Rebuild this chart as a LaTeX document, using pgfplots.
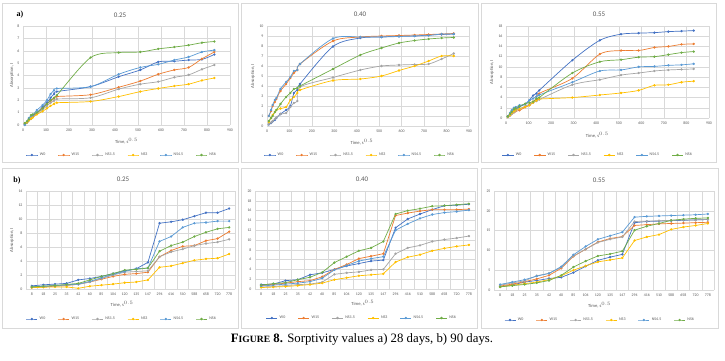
\documentclass[border=0pt]{standalone}
\usepackage{fontspec}
\setmainfont{Carlito}
\newfontfamily\capfont{Liberation Serif}
\usepackage{pgfplots}
\usepackage{pgfplotstable}
\pgfplotsset{compat=1.18}
\definecolor{cW0}{HTML}{4472C4}
\definecolor{cW15}{HTML}{ED7D31}
\definecolor{cNSa}{HTML}{A5A5A5}
\definecolor{cNSb}{HTML}{FFC000}
\definecolor{cNSc}{HTML}{5B9BD5}
\definecolor{cNSd}{HTML}{70AD47}
\definecolor{gridc}{HTML}{D9D9D9}
\definecolor{labc}{HTML}{595959}
\definecolor{framec}{HTML}{D9D9D9}

\pgfplotstableread{
t W0 W15 NSa NSb NSc NSd
8 0.05 0.1 0.1 0.1 0.0 0.15
18 0.2 0.25 0.25 0.2 0.3 0.3
25 0.35 0.4 0.4 0.35 0.55 0.45
35 0.5 0.55 0.55 0.5 0.75 0.8
42 0.7 0.65 0.65 0.6 0.8 0.85
60 1.0 0.95 0.9 0.85 1.2 1.0
85 1.45 1.35 1.25 1.1 1.6 1.35
104 1.8 1.7 1.55 1.35 2.0 1.7
120 2.2 1.95 1.8 1.55 2.5 2.0
135 2.5 2.15 1.95 1.7 2.8 2.2
147 2.7 2.3 2.1 1.8 2.95 2.4
294 3.1 2.45 2.2 1.9 3.1 5.45
416 3.9 3.05 2.9 2.3 4.1 5.85
510 4.45 3.55 3.3 2.7 4.65 5.9
588 5.1 4.1 3.5 2.95 4.9 6.15
658 5.15 4.45 3.85 3.15 5.25 6.3
720 5.25 4.65 4.05 3.3 5.5 6.45
778 5.3 5.35 4.5 3.6 5.9 6.65
832 5.7 5.9 4.85 3.8 6.05 6.75
}\TA

\pgfplotstableread{
t W0 W15 NSa NSb NSc NSd
8 0.15 1.0 0.2 0.4 1.0 0.5
18 0.3 1.5 0.35 0.8 1.6 0.8
25 0.45 2.0 0.5 1.1 2.1 1.0
35 0.6 2.4 0.7 1.4 2.6 1.4
42 0.8 2.7 0.85 1.6 2.8 1.6
60 1.2 3.5 1.2 1.75 3.7 2.2
85 1.6 4.2 1.3 1.9 4.4 2.9
104 2.0 4.8 1.9 2.6 4.9 3.3
120 3.3 5.3 2.3 2.9 5.5 3.7
135 3.6 5.6 2.5 3.3 5.6 3.8
147 4.2 6.2 3.9 3.6 6.2 4.0
294 7.95 8.5 4.85 4.55 8.75 5.7
416 8.8 8.9 5.6 4.7 8.9 7.1
510 8.9 9.0 6.0 5.0 8.9 7.8
588 9.0 9.05 6.1 5.55 8.95 8.3
658 9.0 9.1 6.15 6.0 9.0 8.55
720 9.1 9.15 6.2 6.5 9.05 8.7
778 9.15 9.2 6.7 7.0 9.2 8.8
832 9.2 9.25 7.25 7.0 9.2 8.85
}\TB

\pgfplotstableread{
t W0 W15 NSa NSb NSc NSd
8 0.3 0.2 0.2 0.2 0.3 0.3
18 0.6 0.5 0.5 0.6 1.0 0.8
25 0.9 0.8 0.8 1.0 1.5 1.2
35 1.3 1.1 1.1 1.3 2.0 1.7
42 1.6 1.3 1.4 1.6 2.1 1.9
60 2.2 1.5 1.8 1.8 2.5 2.3
85 2.7 2.1 2.3 2.2 2.7 2.8
104 3.5 2.5 2.7 2.5 3.5 3.0
120 4.4 3.2 3.0 3.0 3.8 3.2
135 4.8 3.6 3.3 3.4 4.2 3.8
147 5.4 4.8 3.6 3.7 4.5 4.0
294 11.3 7.75 6.5 4.0 7.0 8.8
416 15.2 12.5 7.5 4.5 9.2 11.0
510 16.4 13.2 8.4 4.9 9.4 11.4
588 16.6 13.2 8.8 5.4 10.0 11.9
658 16.7 13.8 9.2 6.4 10.1 12.0
720 16.9 14.0 9.4 6.5 10.3 12.4
778 17.0 14.4 9.5 7.0 10.4 12.8
832 17.1 14.5 9.6 7.2 10.6 13.0
}\TC

\pgfplotstableread{
c W0 W15 NSa NSb NSc NSd
0 0.45 0.2 0.3 0.2 0.3 0.3
1 0.6 0.3 0.35 0.25 0.4 0.4
2 0.7 0.4 0.45 0.3 0.5 0.5
3 0.8 0.5 0.55 0.3 0.6 0.65
4 1.3 0.7 0.65 0.1 0.7 0.8
5 1.5 1.0 1.0 0.4 1.1 1.3
6 1.8 1.4 1.5 0.55 1.6 1.8
7 2.2 1.8 2.0 0.7 2.1 2.2
8 2.6 2.1 2.4 0.9 2.5 2.7
9 2.9 2.2 2.5 1.0 2.9 2.8
10 3.8 2.4 2.6 1.3 3.0 3.0
11 9.4 4.6 4.6 3.1 6.8 5.4
12 9.6 5.5 5.3 3.3 7.5 6.2
13 9.9 6.1 5.7 3.7 8.8 6.7
14 10.4 6.2 6.2 4.1 9.4 7.5
15 10.9 6.9 6.5 4.3 9.5 8.1
16 10.9 7.2 6.7 4.4 9.7 8.6
17 11.5 8.2 7.1 5.0 9.7 8.8
}\BA

\pgfplotstableread{
c W0 W15 NSa NSb NSc NSd
0 0.9 0.7 0.4 0.3 0.6 0.8
1 1.0 0.9 0.5 0.4 0.8 1.1
2 1.7 1.2 0.7 0.5 1.0 1.3
3 1.9 1.5 0.9 0.7 1.2 1.9
4 2.9 1.7 1.0 0.9 1.5 2.4
5 3.3 2.5 1.4 1.2 2.2 3.4
6 4.0 4.0 3.0 1.9 3.9 5.4
7 4.7 5.0 3.3 2.3 4.8 6.6
8 5.2 6.2 3.5 2.7 5.7 7.8
9 5.7 6.7 3.9 2.9 6.2 8.4
10 5.9 7.2 4.0 3.1 6.6 9.7
11 12.5 15.0 7.2 5.5 12.0 15.3
12 14.3 15.5 8.4 6.5 13.3 16.0
13 15.3 15.9 8.9 7.0 14.4 16.4
14 16.2 16.2 9.7 7.8 15.2 16.9
15 17.0 16.2 10.1 8.3 15.6 17.0
16 17.1 16.2 10.4 8.7 15.8 17.2
17 17.3 16.3 10.8 9.0 16.1 17.4
}\BB

\pgfplotstableread{
c W0 W15 NSa NSb NSc NSd
0 0.8 1.0 1.2 0.8 1.4 0.8
1 1.3 1.5 1.8 1.2 2.0 1.1
2 2.0 2.1 2.3 1.6 2.6 1.4
3 2.4 2.8 3.6 2.0 3.5 1.8
4 2.9 3.7 4.2 2.6 4.2 2.4
5 3.2 5.5 5.7 3.6 5.9 3.7
6 4.4 8.5 8.6 5.0 8.9 5.8
7 6.0 10.3 10.3 6.1 11.0 7.3
8 7.5 12.1 12.0 7.1 12.8 8.6
9 8.3 13.0 12.8 7.6 13.7 9.1
10 9.0 13.5 13.4 8.1 14.6 9.8
11 17.0 16.3 17.3 12.5 18.4 15.1
12 17.3 16.5 17.4 13.4 18.6 16.1
13 17.4 16.7 17.5 14.0 18.7 16.8
14 17.5 16.8 17.6 15.3 18.8 17.6
15 17.6 16.9 17.7 15.9 18.9 17.9
16 17.7 17.0 17.7 16.3 19.0 18.1
17 17.8 17.1 17.8 16.8 19.2 18.2
}\BC

\pgfplotsset{
  sorpt/.style={
    scale only axis,
    anchor=south west,
    axis line style={draw=none},
    major tick length=0pt, minor tick length=0pt,
    tick label style={font=\fontsize{3.9}{4.5}\selectfont, text=labc},
    /pgf/number format/assume math mode=true,
    xticklabel style={yshift=-0.5pt},
    major grid style={draw=gridc, line width=0.35pt},
    minor grid style={draw=gridc, line width=0.35pt},
    xlabel style={font=\fontsize{4.6}{5}\selectfont, text=labc, anchor=center},
    legend style={draw=none, fill=none, font=\fontsize{4}{4.5}\selectfont, text=labc,
      legend columns=6, inner sep=0pt, anchor=center,
      /tikz/every even column/.append style={column sep=10.5pt}},
    legend image code/.code={\draw[#1, mark repeat=2, mark phase=2] plot coordinates {(0pt,0pt) (5.5pt,0pt) (11pt,0pt)};},
    every axis plot/.append style={line width=0.7pt, mark=*, mark size=0.8pt},
  },
  toprow/.style={sorpt, xmin=0, xmax=900, xtick={0,100,...,900}, grid=major,
    xlabel={Time, s$^{0.5}$}},
  botrow/.style={sorpt, xmin=-0.5, xmax=17.5, xtick={0,...,17},
    xticklabels={8,18,25,35,42,60,85,104,120,135,147,294,416,510,588,658,720,778},
    minor xtick={-0.5,0.5,...,17.5}, xminorgrids=true, ymajorgrids=true,
    xlabel={Time, s$^{0.5}$}},
}

\newcommand\sixplots[3]{%
  \addplot[cW0,#3] table[x=#2,y=W0]{#1}; \addlegendentry{W0}
  \addplot[cW15,#3] table[x=#2,y=W15]{#1}; \addlegendentry{W15}
  \addplot[cNSa,#3] table[x=#2,y=NSa]{#1}; \addlegendentry{NS1.5}
  \addplot[cNSb,#3] table[x=#2,y=NSb]{#1}; \addlegendentry{NS3}
  \addplot[cNSc,#3] table[x=#2,y=NSc]{#1}; \addlegendentry{NS4.5}
  \addplot[cNSd,#3] table[x=#2,y=NSd]{#1}; \addlegendentry{NS6}
}

\begin{document}
\begin{tikzpicture}
\fill[white] (0pt,0pt) rectangle (725pt,360pt);
% frames
\begin{scope}[draw=framec, line width=0.5pt]
\draw (2pt,198pt) rectangle (238pt,357pt);
\draw (241pt,198pt) rectangle (478pt,357pt);
\draw (481pt,198pt) rectangle (716pt,357pt);
\draw (2pt,32pt) rectangle (238pt,192pt);
\draw (241pt,32pt) rectangle (477pt,192pt);
\draw (481pt,32pt) rectangle (718pt,192pt);
\end{scope}

% ---- top row ----
\begin{axis}[toprow, at={(23pt,235pt)}, width=207pt, height=99pt,
  ymin=0, ymax=8, ytick={0,1,...,8},
  xlabel style={at={(axis description cs:0.5,-0.16)}},
  legend style={at={(axis description cs:0.478,-0.303)}}]
\sixplots{\TA}{t}{smooth}
\end{axis}

\begin{axis}[toprow, at={(267pt,234pt)}, width=202pt, height=100pt,
  ymin=0, ymax=10, ytick={0,1,...,10},
  xlabel style={at={(axis description cs:0.47,-0.16)}},
  legend style={at={(axis description cs:0.46,-0.29)}}]
\sixplots{\TB}{t}{smooth}
\end{axis}

\begin{axis}[toprow, at={(506pt,242pt)}, width=203pt, height=92pt,
  ymin=0, ymax=18, ytick={0,2,...,18},
  xlabel style={at={(axis description cs:0.45,-0.185)}},
  legend style={at={(axis description cs:0.453,-0.402)}}]
\sixplots{\TC}{t}{smooth}
\end{axis}

% ---- bottom row ----
\begin{axis}[botrow, at={(26pt,71pt)}, width=209pt, height=98pt,
  ymin=0, ymax=14, ytick={0,2,...,14},
  xlabel style={at={(axis description cs:0.46,-0.153)}},
  legend style={at={(axis description cs:0.459,-0.306)}}]
\sixplots{\BA}{c}{}
\end{axis}

\begin{axis}[botrow, at={(255pt,71pt)}, width=220pt, height=98pt,
  ymin=0, ymax=20, ytick={0,2,...,20},
  xlabel style={at={(axis description cs:0.49,-0.143)}},
  legend style={at={(axis description cs:0.486,-0.296)}}]
\sixplots{\BB}{c}{}
\end{axis}

\begin{axis}[botrow, at={(494pt,70pt)}, width=220pt, height=99pt,
  ymin=0, ymax=25, ytick={0,5,...,25},
  xlabel style={at={(axis description cs:0.48,-0.15)}},
  legend style={at={(axis description cs:0.482,-0.303)}}]
\sixplots{\BC}{c}{}
\end{axis}

% titles
\begin{scope}[every node/.style={font=\fontsize{7}{8}\selectfont, text=labc, inner sep=0pt}]
\node at (120pt,345pt) {0.25};
\node at (360pt,346pt) {0.40};
\node at (599pt,346pt) {0.55};
\node at (123pt,181pt) {0.25};
\node at (362pt,181pt) {0.40};
\node at (599pt,180pt) {0.55};
\end{scope}
% panel letters
\node[font=\capfont\bfseries\fontsize{8}{9}\selectfont, inner sep=0pt] at (20pt,345pt) {a)};
\node[font=\capfont\bfseries\fontsize{8}{9}\selectfont, inner sep=0pt] at (17pt,179pt) {b)};
% y labels
\begin{scope}[every node/.style={font=\fontsize{4.6}{5}\selectfont, text=labc, inner sep=0pt, rotate=90}]
\node at (12pt,284.5pt) {Absorption, I};
\node at (253pt,284pt) {Absorption, I};
\node at (492pt,288pt) {Absorption, I};
\node at (12pt,120pt) {Absorption, I};
\end{scope}
% caption
\node[font=\capfont\fontsize{12.8}{14}\selectfont, inner sep=0pt] at (362pt,21pt)
  {\textbf{F{\fontsize{9.6}{11}\selectfont IGURE} 8.} Sorptivity values a) 28 days, b) 90 days.};
\pgfresetboundingbox
\useasboundingbox (0pt,0pt) rectangle (725pt,360pt);
\end{tikzpicture}
\end{document}
